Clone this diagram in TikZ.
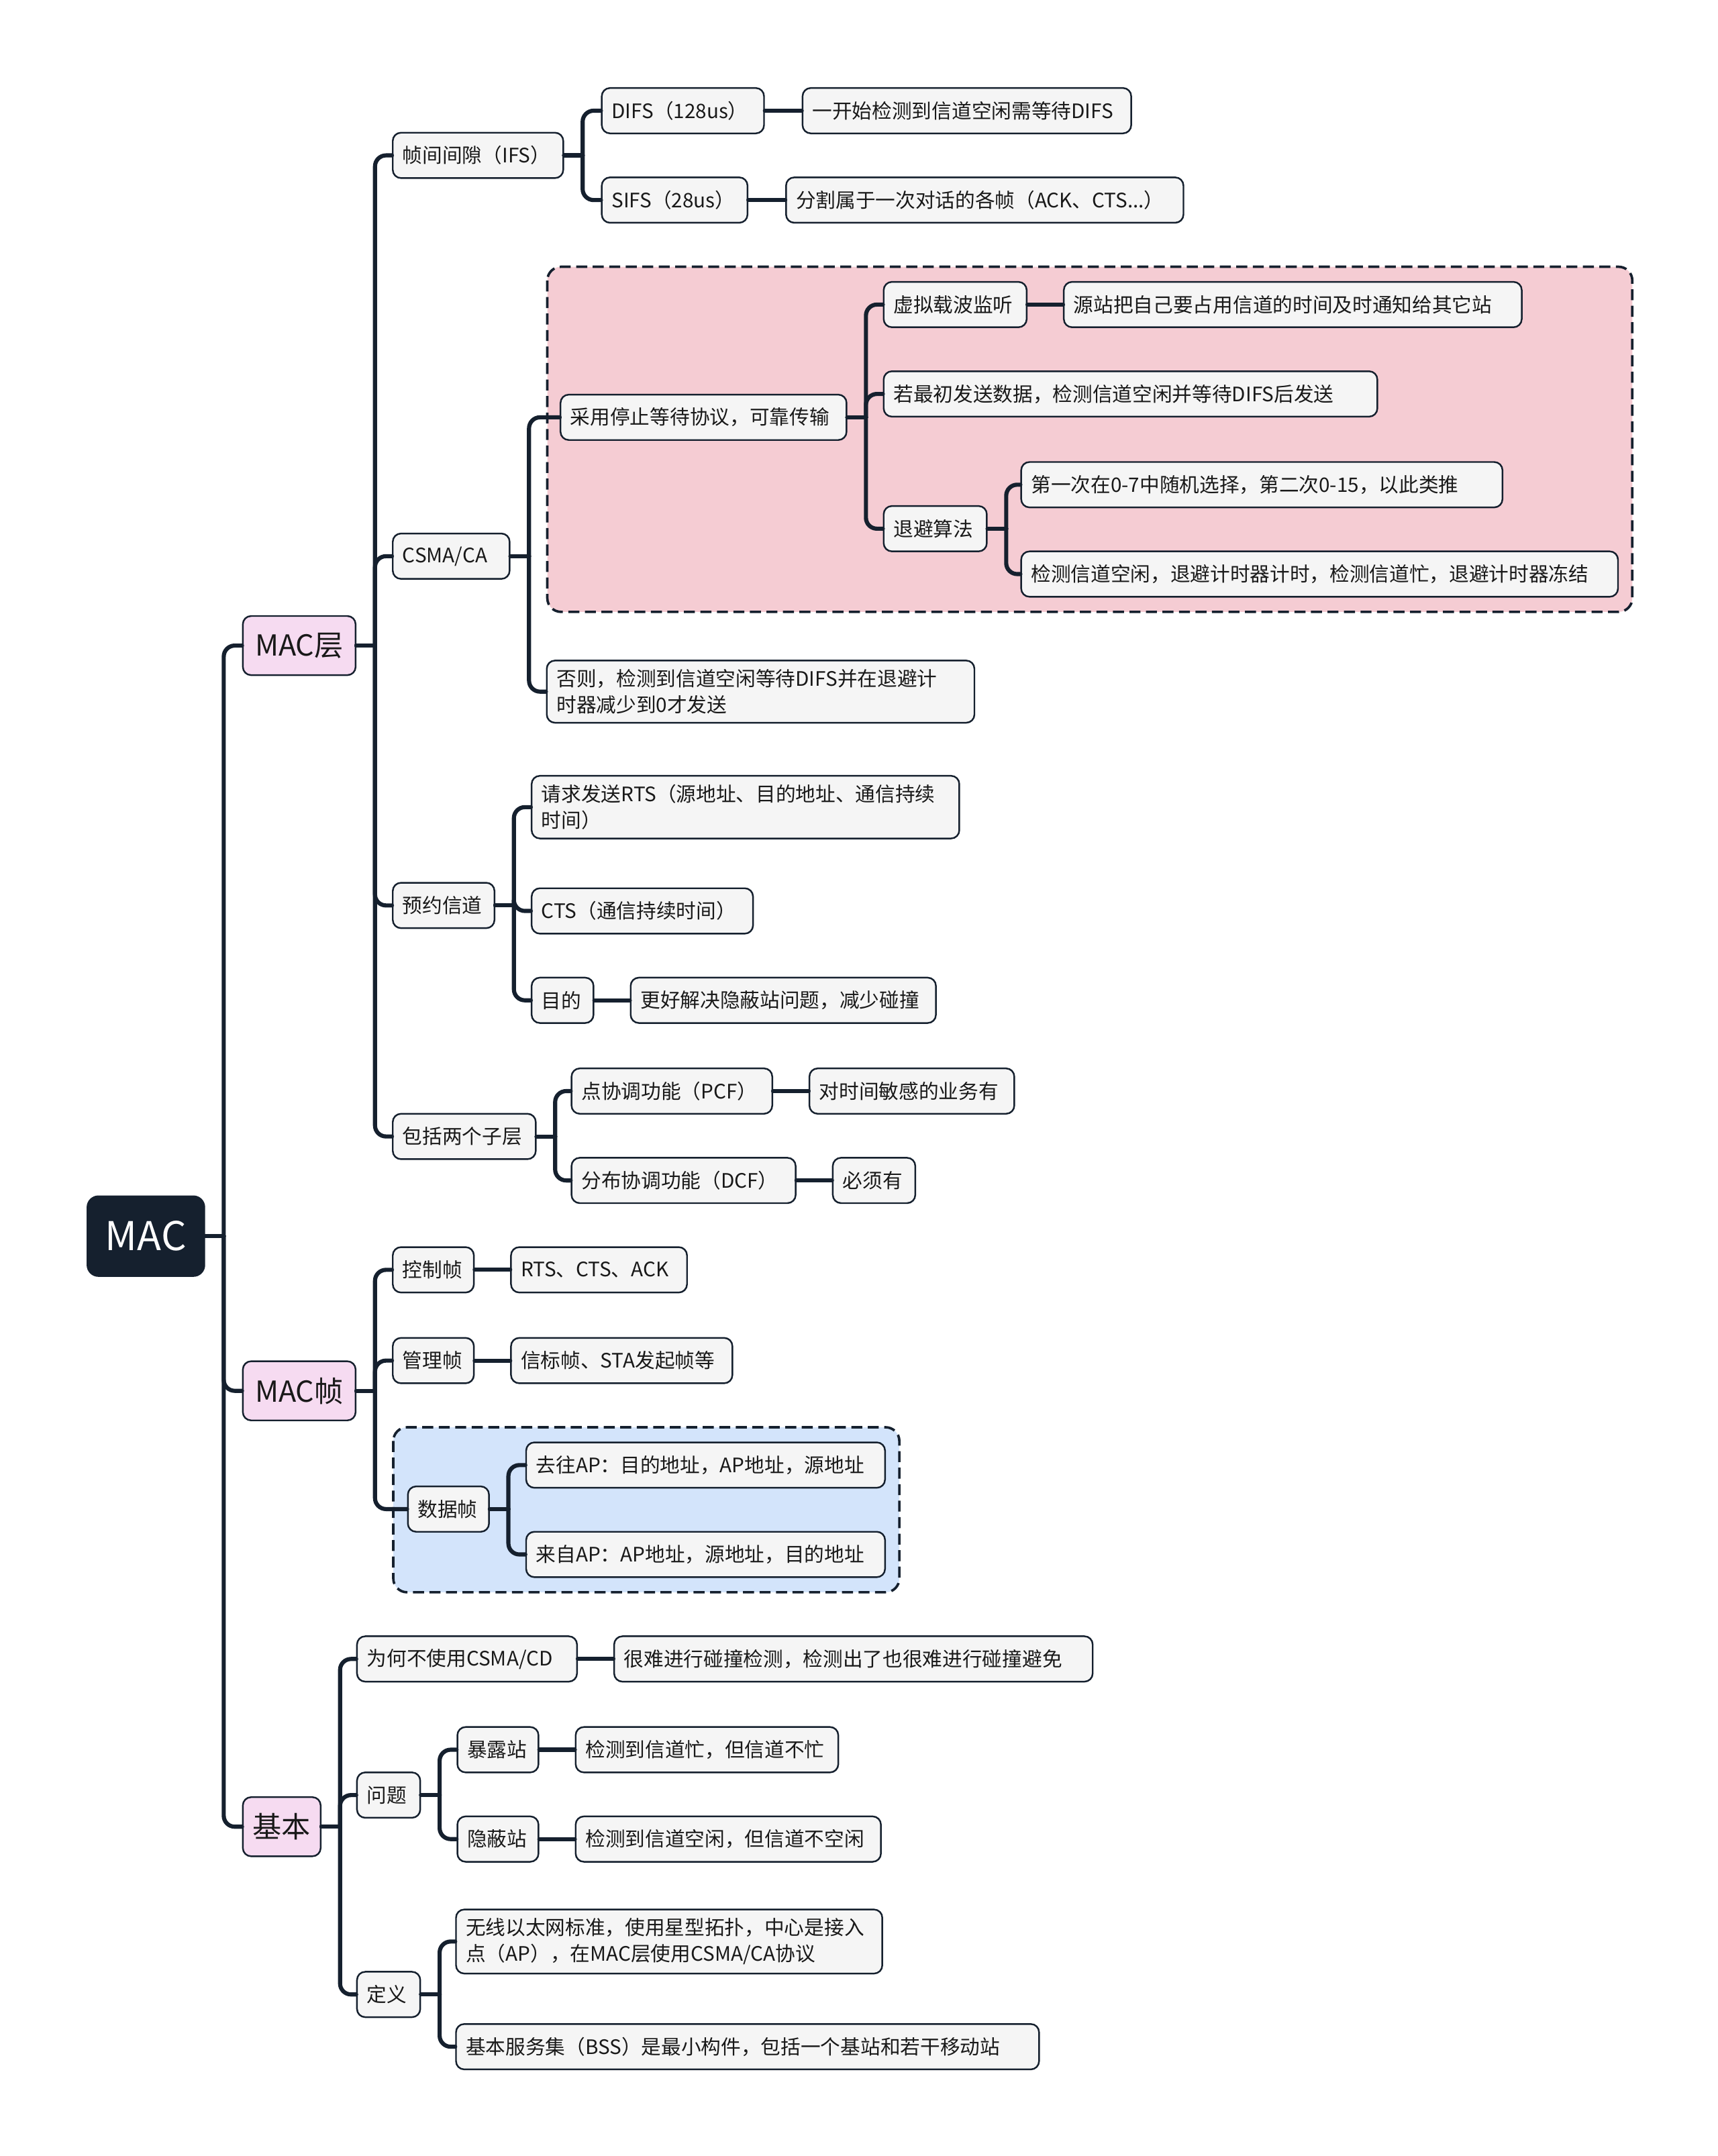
\documentclass[tikz,border=0pt]{standalone}
\usepackage{fontspec}
\setmainfont{Noto Sans CJK SC}
\usetikzlibrary{backgrounds}

\definecolor{navy}{HTML}{15202E}
\definecolor{leaffill}{HTML}{F5F5F5}
\definecolor{topicfill}{HTML}{F6DBF1}
\definecolor{pinkzone}{HTML}{F5CCD3}
\definecolor{bluezone}{HTML}{D3E4FB}

\tikzset{
  box/.style={anchor=west, rounded corners=1.5mm, draw=navy, line width=0.3mm,
    fill=leaffill, inner xsep=1.8mm, inner ysep=1.6mm, minimum height=8.25mm,
    font=\fontsize{10.3}{13.5}\selectfont, text=black!90, align=left},
  wd/.style={text width=#1*0.25mm-3.6mm},
  cw/.style={minimum width=#1*0.25mm, align=center},
  topic/.style={box, fill=topicfill, minimum height=10.75mm, font=\fontsize{15}{18}\selectfont},
  rootbox/.style={box, fill=navy, text=white, minimum height=14.5mm, rounded corners=2mm,
    font=\fontsize{20.5}{25}\selectfont},
  link/.style={draw=navy, line width=0.75mm, line cap=round},
  zone/.style={draw=navy, line width=0.45mm, rounded corners=2.5mm, dash pattern=on 2mm off 1mm}
}

\begin{document}
\begin{tikzpicture}[x=0.25mm, y=-0.25mm]
  \useasboundingbox (0,0) rectangle (1249,1568);

  % root and main topics
  \node[rootbox, cw=85] (mac) at (63,899) {MAC};
  \node[topic, cw=82] (layer) at (176,469.5) {MAC层};
  \node[topic, cw=82] (frame) at (176,1011.5) {MAC帧};
  \node[topic, cw=56] (basic) at (176,1328.5) {基本};

  % MAC层
  \node[box, wd=124] (ifs) at (285,113) {帧间间隙（IFS）};
  \node[box, wd=85] (csma) at (285,404.5) {CSMA/CA};
  \node[box, wd=74] (resv) at (285,658.5) {预约信道};
  \node[box, wd=104] (sub) at (285,826.5) {包括两个子层};

  \node[box, wd=118] (difs) at (437,80.5) {DIFS（128us）};
  \node[box, wd=106] (sifs) at (437,145.5) {SIFS（28us）};
  \node[box, wd=239] (difsd) at (583,80.5) {一开始检测到信道空闲需等待DIFS};
  \node[box, wd=289] (sifsd) at (571,145.5) {分割属于一次对话的各帧（ACK、CTS...）};

  \node[box, wd=208] (stop) at (407,303.5) {采用停止等待协议，可靠传输};
  \node[box, wd=311] (other) at (397,503) {否则，检测到信道空闲等待DIFS并在退避计\\时器减少到0才发送};
  \node[box, wd=104] (vcs) at (642,221.5) {虚拟载波监听};
  \node[box, wd=333] (vcsd) at (773,221.5) {源站把自己要占用信道的时间及时通知给其它站};
  \node[box, wd=359] (init) at (642,286.5) {若最初发送数据，检测信道空闲并等待DIFS后发送};
  \node[box, wd=75] (back) at (642,384.5) {退避算法};
  \node[box, wd=350] (back1) at (742,352.5) {第一次在0-7中随机选择，第二次0-15，以此类推};
  \node[box, wd=434] (back2) at (742,417.5) {检测信道空闲，退避计时器计时，检测信道忙，退避计时器冻结};

  \node[box, wd=311] (rts) at (386,587) {请求发送RTS（源地址、目的地址、通信持续\\时间）};
  \node[box, wd=161] (cts) at (386,662.5) {CTS（通信持续时间）};
  \node[box, wd=45] (goal) at (386,727.5) {目的};
  \node[box, wd=222] (goald) at (458,727.5) {更好解决隐蔽站问题，减少碰撞};

  \node[box, wd=146] (pcf) at (415,793.5) {点协调功能（PCF）};
  \node[box, wd=163] (dcf) at (415,858.5) {分布协调功能（DCF）};
  \node[box, wd=149] (pcfd) at (588,793.5) {对时间敏感的业务有};
  \node[box, wd=60] (dcfd) at (605,858.5) {必须有};

  % MAC帧
  \node[box, wd=59] (ctrl) at (285,923.5) {控制帧};
  \node[box, wd=59] (mgmt) at (285,989.5) {管理帧};
  \node[box, wd=59] (data) at (296,1097.5) {数据帧};
  \node[box, wd=128] (ctrld) at (371,923.5) {RTS、CTS、ACK};
  \node[box, wd=161] (mgmtd) at (371,989.5) {信标帧、STA发起帧等};
  \node[box, wd=261] (toap) at (382,1065.5) {去往AP：目的地址，AP地址，源地址};
  \node[box, wd=261] (fromap) at (382,1130.5) {来自AP：AP地址，源地址，目的地址};

  % 基本
  \node[box, wd=160] (why) at (259,1206.5) {为何不使用CSMA/CD};
  \node[box, wd=348] (whyd) at (446,1206.5) {很难进行碰撞检测，检测出了也很难进行碰撞避免};
  \node[box, wd=46] (prob) at (259,1305.5) {问题};
  \node[box, wd=46] (defn) at (259,1450.5) {定义};
  \node[box, wd=59] (expo) at (332,1272.5) {暴露站};
  \node[box, wd=191] (expod) at (418,1272.5) {检测到信道忙，但信道不忙};
  \node[box, wd=59] (hide) at (332,1337.5) {隐蔽站};
  \node[box, wd=222] (hided) at (418,1337.5) {检测到信道空闲，但信道不空闲};
  \node[box, wd=310] (def1) at (331,1412) {无线以太网标准，使用星型拓扑，中心是接入\\点（AP），在MAC层使用CSMA/CA协议};
  \node[box, wd=424] (def2) at (331,1488.5) {基本服务集（BSS）是最小构件，包括一个基站和若干移动站};

  % dashed groups behind everything
  \begin{scope}[on background layer]
    \draw[zone, fill=pinkzone] (398,194) rectangle (1187,445);
    \draw[zone, fill=bluezone] (286,1038) rectangle (654,1158);
  \end{scope}

  % elbow links
  \foreach \p/\c in {mac/layer, mac/frame, mac/basic,
      layer/ifs, layer/csma, layer/resv, layer/sub,
      ifs/difs, ifs/sifs, csma/stop, csma/other,
      stop/vcs, stop/init, stop/back, back/back1, back/back2,
      resv/rts, resv/cts, resv/goal, sub/pcf, sub/dcf,
      frame/ctrl, frame/mgmt, frame/data, data/toap, data/fromap,
      basic/why, basic/prob, basic/defn,
      prob/expo, prob/hide, defn/def1, defn/def2}{
    \draw[link] (\p.east) -- ++(13.5,0) coordinate (j);
    \draw[link, rounded corners=2mm] (j) |- (\c.west);
  }

  % straight links
  \foreach \a/\b in {difs/difsd, sifs/sifsd, vcs/vcsd, goal/goald,
      pcf/pcfd, dcf/dcfd, ctrl/ctrld, mgmt/mgmtd, why/whyd,
      expo/expod, hide/hided}
    \draw[link] (\a.east) -- (\b.west);
\end{tikzpicture}
\end{document}
